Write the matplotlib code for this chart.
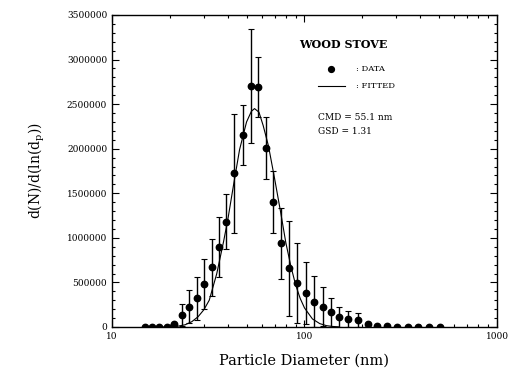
import matplotlib
matplotlib.use("Agg")
import matplotlib.pyplot as plt
from matplotlib.ticker import MultipleLocator, LogLocator, NullFormatter

# Measured data (diameter in nm, dN/dlnDp, error)
diam = [14.8, 16.1, 17.5, 19.3, 21.0, 23.0, 25.1, 27.5, 30.1, 32.9, 35.9, 39.1,
        43.0, 47.8, 52.5, 57.5, 63.1, 68.8, 75.2, 83.0, 91.0, 101.8, 112.5,
        124.4, 137.5, 151.8, 168.9, 190.3, 212.7, 237, 267, 303, 344, 390, 443, 506]
conc = [0, 0, 0, 0, 30000, 134000, 228000, 322000, 478000, 669000, 900000, 1180000,
        1723000, 2152000, 2702000, 2694000, 2010000, 1405000, 938000, 658000, 490000,
        378000, 284000, 228000, 165000, 115000, 90000, 78000, 34000, 15000, 11000,
        5000, 5000, 4000, 3000, 2000]
err = [0, 0, 0, 0, 10000, 124000, 187000, 242000, 281000, 318000, 336000, 310000,
       665000, 340000, 640000, 336000, 350000, 350000, 400000, 530000, 450000,
       350000, 288000, 217000, 163000, 113000, 89000, 76000, 0, 0, 0,
       0, 0, 0, 0, 0]

# Fitted curve
fit_d = [18, 20, 22, 24, 26, 28, 30, 32, 35, 38, 40, 43, 46, 50, 53, 55, 58, 61,
         65, 70, 75, 80, 85, 90, 95, 100, 110, 120, 130, 140, 150]
fit_n = [0, 2000, 9000, 25000, 60000, 115000, 193000, 300000, 597000, 960000,
         1210000, 1620000, 1990000, 2300000, 2420000, 2450000, 2410000, 2260000,
         2030000, 1660000, 1300000, 945000, 680000, 470000, 320000, 214000, 90000,
         38000, 15000, 6000, 2000]

title_text = "WOOD STOVE"
legend_data = ": DATA"
legend_fit = ": FITTED"
cmd_text = "CMD = 55.1 nm"
gsd_text = "GSD = 1.31"

yticks = [0, 500000, 1000000, 1500000, 2000000, 2500000, 3000000, 3500000]
xticks = [10, 100, 1000]

serif = "DejaVu Serif"

fig = plt.figure(figsize=(5.1, 3.74), dpi=100)
ax = fig.add_axes([0.2196, 0.1257, 0.7549, 0.8342])

ax.plot(fit_d, fit_n, color="black", lw=0.8, zorder=2)
ax.errorbar(diam, conc, yerr=err, fmt="o", color="black", ms=4.6, elinewidth=1.0,
            capsize=2.2, capthick=0.8, zorder=3)

ax.set_xscale("log")
ax.set_xlim(10, 1000)
ax.set_ylim(0, 3500000)

ax.set_yticks(yticks)
ax.set_yticklabels([str(v) for v in yticks], fontsize=6.5, family=serif)
ax.yaxis.set_minor_locator(MultipleLocator(100000))
ax.set_xticks(xticks)
ax.set_xticklabels([str(v) for v in xticks], fontsize=6.5, family=serif)
ax.xaxis.set_minor_locator(LogLocator(base=10, subs=range(2, 10)))
ax.xaxis.set_minor_formatter(NullFormatter())

ax.tick_params(which="both", direction="in", top=True, right=True, width=0.8)
ax.tick_params(which="major", length=5)
ax.tick_params(which="minor", length=2.5)
for s in ax.spines.values():
    s.set_linewidth(1.0)

ax.set_xlabel("Particle Diameter (nm)", fontsize=10.5, family=serif, labelpad=9)
ax.set_ylabel(r"d(N)/d(ln(d$_\mathregular{p}$))", fontsize=10, family=serif, labelpad=14)

# Annotation block
ax.text(0.60, 0.905, title_text, transform=ax.transAxes, ha="center", va="center",
        fontsize=8, fontweight="bold", family=serif)
ax.plot([0.57], [0.826], "o", color="black", ms=4.2, transform=ax.transAxes)
ax.text(0.635, 0.826, legend_data, transform=ax.transAxes, ha="left", va="center",
        fontsize=6, family=serif)
ax.plot([0.535, 0.605], [0.772, 0.772], "-", color="black", lw=0.8, transform=ax.transAxes)
ax.text(0.635, 0.772, legend_fit, transform=ax.transAxes, ha="left", va="center",
        fontsize=6, family=serif)
ax.text(0.535, 0.67, cmd_text, transform=ax.transAxes, ha="left", va="center",
        fontsize=6.5, family=serif)
ax.text(0.535, 0.627, gsd_text, transform=ax.transAxes, ha="left", va="center",
        fontsize=6.5, family=serif)

fig.savefig("out.png", dpi=100)
